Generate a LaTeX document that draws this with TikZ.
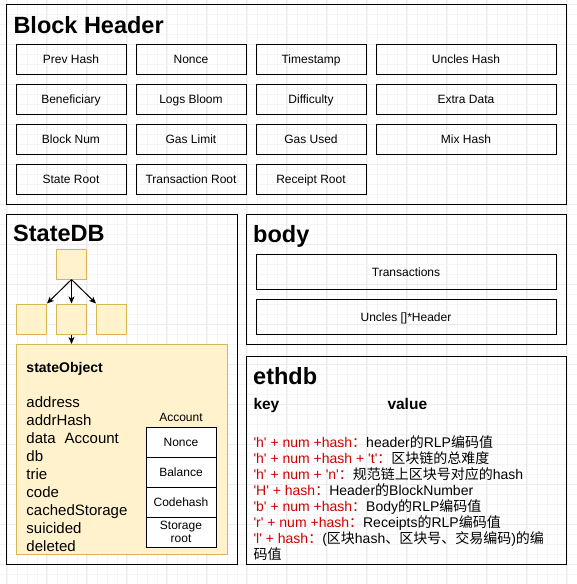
\documentclass[tikz,border=0pt]{standalone}
\usepackage{fontspec}
\setmainfont{Liberation Sans}[Ligatures=TeXOff]
\newfontfamily\cjkfont{Noto Sans CJK SC}
\usetikzlibrary{arrows.meta}
\definecolor{notefill}{HTML}{FFF2CC}
\definecolor{notedraw}{HTML}{D6B656}
\definecolor{keyred}{HTML}{CC0000}
\newcommand{\zh}[1]{{\cjkfont #1}}
\newcommand{\keyval}[2]{\textcolor{keyred}{#1}#2}
\newcommand{\pxfont}[1]{\fontsize{#1}{#1}\selectfont}

\begin{document}
\begin{tikzpicture}[
  x=1pt, y=-1pt,
  line width=1pt,
  every node/.style={inner sep=0pt},
  field/.style={draw, minimum width=110pt, minimum height=30pt, font=\pxfont{12},
    text height=9.6pt, text depth=0pt},
  title/.style={anchor=base west, font=\pxfont{23.5}\bfseries},
  cell/.style={fill=notefill, draw=notedraw, minimum size=30pt},
  every path/.style={>={Stealth[length=7pt,width=6pt,inset=2pt]}},
  ]
  \useasboundingbox (0,0) rectangle (577,584);
  % faint page grid
  \begin{scope}[shift={(6.7,4.5)}]
    \draw[line width=0.4pt, black!4, step=10pt] (-6.7,-4.5) grid (570.3,579.5);
    \draw[line width=0.6pt, black!8, step=40pt] (-6.7,-4.5) grid (570.3,579.5);
  \end{scope}

  % block header
  \draw (6,4.5) rectangle (566,204);
  \node[title] (hdr) at (13,33) {Block Header};
  \foreach \txt [count=\i from 0] in {Prev Hash,Nonce,Timestamp,Beneficiary,
    Logs Bloom,Difficulty,Block Num,Gas Limit,Gas Used,State Root,
    Transaction Root,Receipt Root}
    \node[field] (f\i) at ({71+120*mod(\i,3)},{59+40*int(\i/3)}) {\txt};
  \foreach \txt [count=\i from 0] in {Uncles Hash,Extra Data,Mix Hash}
    \node[field, minimum width=180pt] (w\i) at (466,{59+40*\i}) {\txt};

  % state database
  \draw (6.7,214) rectangle (237,564);
  \node[title] (sdb) at (12.7,241) {StateDB};
  \node[cell] (root) at (71.5,264) {};
  \foreach \x [count=\i] in {31.5,71.5,111.5}
    \node[cell] (leaf\i) at (\x,319) {};
  \draw[->] (root.south) -- (leaf1.north east);
  \draw[->] (root.south) -- (leaf2.north);
  \draw[->] (root.south) -- (leaf3.north west);
  \node[fill=notefill, draw=notedraw, minimum width=211pt, minimum height=209.5pt]
    (obj) at (121.5,449.25) {};
  \draw[->] (leaf2.south) -- (leaf2.south |- obj.north);
  \node[anchor=base west, font=\pxfont{14}\bfseries] (objname) at (26,372) {stateObject};
  \foreach \f [count=\i from 0] in {address,addrHash,{data\hspace{9pt}Account},
    db,trie,code,cachedStorage,suicided,deleted}
    \node[anchor=base west, font=\pxfont{15}] (fld\i) at (26,{407+18*\i}) {\f};
  \node[anchor=base, font=\pxfont{12}] (acct) at (181,421) {Account};
  \foreach \f [count=\i from 0] in {Nonce,Balance,Codehash}
    \node[field, fill=white, minimum width=70pt] (acc\i) at (181,{442+30*\i}) {\f};
  \node[field, fill=white, minimum width=70pt, align=center, text height=, text depth=,
    font=\fontsize{12}{13.5}\selectfont] (acc3) at (181,532) {Storage\\root};

  % block body
  \draw (246.7,214) rectangle (566,344);
  \node[title] (bdy) at (252.7,242) {body};
  \node[field, minimum width=300pt, minimum height=35pt] (txs) at (406,271.5) {Transactions};
  \node[field, minimum width=300pt, minimum height=35pt] (uncles) at (406,316.5) {Uncles []*Header};

  % key/value store
  \draw (246.7,356.7) rectangle (566,564);
  \node[title] (edb) at (252.7,384) {ethdb};
  \node[anchor=base west, font=\pxfont{15.5}\bfseries] (key) at (253,409) {key};
  \node[anchor=base west, font=\pxfont{15.5}\bfseries] (val) at (387,409) {value};
  \foreach \entry [count=\i from 0] in {
    {\keyval{'h' + num +hash\zh{：}}{header\zh{的}RLP\zh{编码值}}},
    {\keyval{'h' + num +hash + 't'\zh{：}}{\zh{区块链的总难度}}},
    {\keyval{'h' + num + 'n'\zh{：}}{\zh{规范链上区块号对应的}hash}},
    {\keyval{'H' + hash\zh{：}}{Header\zh{的}BlockNumber}},
    {\keyval{'b' + num +hash\zh{：}}{Body\zh{的}RLP\zh{编码值}}},
    {\keyval{'r' + num +hash\zh{：}}{Receipts\zh{的}RLP\zh{编码值}}},
    {\keyval{'l' + hash\zh{：}}{(\zh{区块}hash\zh{、区块号、交易编码})\zh{的编}}},
    {\zh{码值}}}
    \node[anchor=base west, font=\pxfont{14}] (kv\i) at (253,{447+16*\i}) {\entry};
\end{tikzpicture}
\end{document}
